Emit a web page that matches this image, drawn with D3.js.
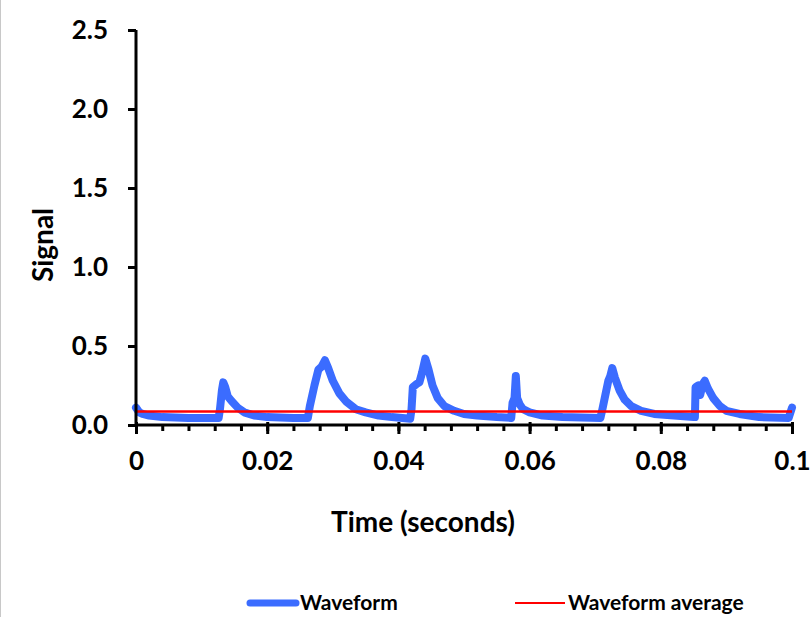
<!DOCTYPE html>
<html>
<head>
<meta charset="utf-8">
<script src="https://cdn.jsdelivr.net/npm/d3@7"></script>
<style>
  body { margin: 0; background: #fff; }
  text { font-family: Lato, "Open Sans", sans-serif; font-weight: bold; fill: #000; }
</style>
</head>
<body>
<script>
var WIDTH = 812,
    HEIGHT = 617;

// waveform samples
var times = [
  0, 0.0005, 0.001, 0.002, 0.004, 0.008, 0.0126,
  0.0128, 0.0131, 0.0133, 0.0136, 0.0140, 0.0146, 0.0155, 0.0165, 0.018, 0.020, 0.024, 0.0262,
  0.0265, 0.0272, 0.0278, 0.0283, 0.0288, 0.0293, 0.0300, 0.031, 0.032, 0.0335, 0.035, 0.037, 0.039, 0.0418,
  0.0420, 0.0422, 0.0428, 0.0432, 0.0436, 0.0441, 0.0446, 0.0452, 0.046, 0.047, 0.0485, 0.050, 0.052, 0.055, 0.0572,
  0.0574, 0.0577, 0.0579, 0.0581, 0.0585, 0.059, 0.060, 0.062, 0.065, 0.0708,
  0.0711, 0.0716, 0.0720, 0.0723, 0.0726, 0.0730, 0.0737, 0.0745, 0.0755, 0.077, 0.079, 0.082, 0.085,
  0.0852, 0.0853, 0.0857, 0.0860, 0.0864, 0.0867, 0.0872, 0.088, 0.089, 0.090, 0.092, 0.095, 0.0995, 0.1
];
var signal = [
  0.11, 0.08, 0.07, 0.06, 0.05, 0.045, 0.045,
  0.10, 0.22, 0.27, 0.24, 0.18, 0.15, 0.11, 0.08, 0.06, 0.05, 0.045, 0.045,
  0.12, 0.25, 0.35, 0.37, 0.41, 0.36, 0.28, 0.20, 0.15, 0.10, 0.08, 0.06, 0.05, 0.04,
  0.10, 0.24, 0.26, 0.27, 0.33, 0.42, 0.35, 0.25, 0.17, 0.12, 0.09, 0.07, 0.06, 0.05, 0.045,
  0.14, 0.17, 0.31, 0.17, 0.13, 0.10, 0.08, 0.06, 0.05, 0.045,
  0.10, 0.20, 0.28, 0.31, 0.36, 0.30, 0.22, 0.16, 0.12, 0.09, 0.07, 0.06, 0.05,
  0.05, 0.24, 0.25, 0.19, 0.26, 0.28, 0.23, 0.17, 0.12, 0.09, 0.07, 0.05, 0.045, 0.11
];
var average = 0.085;

var xTicks = [0, 0.02, 0.04, 0.06, 0.08, 0.1],
    xTickLabels = ["0", "0.02", "0.04", "0.06", "0.08", "0.1"],
    yTicks = [0, 0.5, 1.0, 1.5, 2.0, 2.5];

var legendNames = ["Waveform", "Waveform average"];

var BLUE = "#3b6cff",
    RED = "#ff0000";

var x = d3.scaleLinear().domain([0, 0.1]).range([136, 792]),
    y = d3.scaleLinear().domain([0, 2.5]).range([425, 30]);

var svg = d3.select("body").append("svg")
      .attr("width", WIDTH)
      .attr("height", HEIGHT);

// faint frame edge on the left
svg.append("line")
  .attr("x1", 0.5).attr("x2", 0.5)
  .attr("y1", 0).attr("y2", HEIGHT)
  .attr("stroke", "#c8c8c8");

var points = times.map(function(t, i) { return [t, signal[i]]; });

var line = d3.line()
  .x(function(d) { return x(d[0]); })
  .y(function(d) { return y(d[1]); });

svg.append("path")
  .datum(points)
  .attr("d", line)
  .attr("fill", "none")
  .attr("stroke", BLUE)
  .attr("stroke-width", 8)
  .attr("stroke-linejoin", "round")
  .attr("stroke-linecap", "round");

svg.append("line")
  .attr("x1", x(0)).attr("x2", x(0.1))
  .attr("y1", y(average)).attr("y2", y(average))
  .attr("stroke", RED)
  .attr("stroke-width", 2.5);

// x axis: minor ticks every 0.004, major every 0.02
var minorTicks = d3.range(0, 26).map(function(i) { return i * 0.004; });

var xAxisMinor = d3.axisBottom(x)
  .tickValues(minorTicks)
  .tickSize(6)
  .tickFormat("");

var xAxis = d3.axisBottom(x)
  .tickValues(xTicks)
  .tickSize(9)
  .tickPadding(18)
  .tickFormat(function(d, i) { return xTickLabels[i]; });

var gxm = svg.append("g")
  .attr("transform", "translate(0," + y(0) + ")")
  .call(xAxisMinor);
gxm.selectAll(".tick line").attr("stroke-width", 3);
gxm.select(".domain").remove();

var gx = svg.append("g")
  .attr("transform", "translate(0," + y(0) + ")")
  .call(xAxis);
gx.select(".domain").attr("stroke-width", 3).attr("d", "M" + x(0) + ",0H" + x(0.1));
gx.selectAll(".tick line").attr("stroke-width", 3).attr("y1", -3);
gx.selectAll(".tick text").style("font-size", "26px");

var yAxis = d3.axisLeft(y)
  .tickValues(yTicks)
  .tickSize(8)
  .tickPadding(20)
  .tickFormat(d3.format(".1f"));

var gy = svg.append("g")
  .attr("transform", "translate(" + x(0) + ",0)")
  .call(yAxis);
gy.select(".domain").attr("stroke-width", 3).attr("d", "M0," + y(0) + "V" + y(2.5));
gy.selectAll(".tick line").attr("stroke-width", 3);
gy.selectAll(".tick text").style("font-size", "26px");

svg.append("text")
  .attr("x", 423)
  .attr("y", 532)
  .attr("text-anchor", "middle")
  .style("font-size", "28px")
  .text("Time (seconds)");

svg.append("text")
  .attr("transform", "translate(53,245) rotate(-90)")
  .attr("text-anchor", "middle")
  .style("font-size", "28px")
  .text("Signal");

// legend
var legend = svg.append("g");
legend.append("line")
  .attr("x1", 250).attr("x2", 296)
  .attr("y1", 603).attr("y2", 603)
  .attr("stroke", BLUE).attr("stroke-width", 7)
  .attr("stroke-linecap", "round");
legend.append("text")
  .attr("x", 300).attr("y", 610)
  .style("font-size", "21px")
  .text(legendNames[0]);
legend.append("line")
  .attr("x1", 515).attr("x2", 565)
  .attr("y1", 603).attr("y2", 603)
  .attr("stroke", RED).attr("stroke-width", 2);
legend.append("text")
  .attr("x", 568).attr("y", 610)
  .style("font-size", "21px")
  .text(legendNames[1]);
</script>
</body>
</html>
